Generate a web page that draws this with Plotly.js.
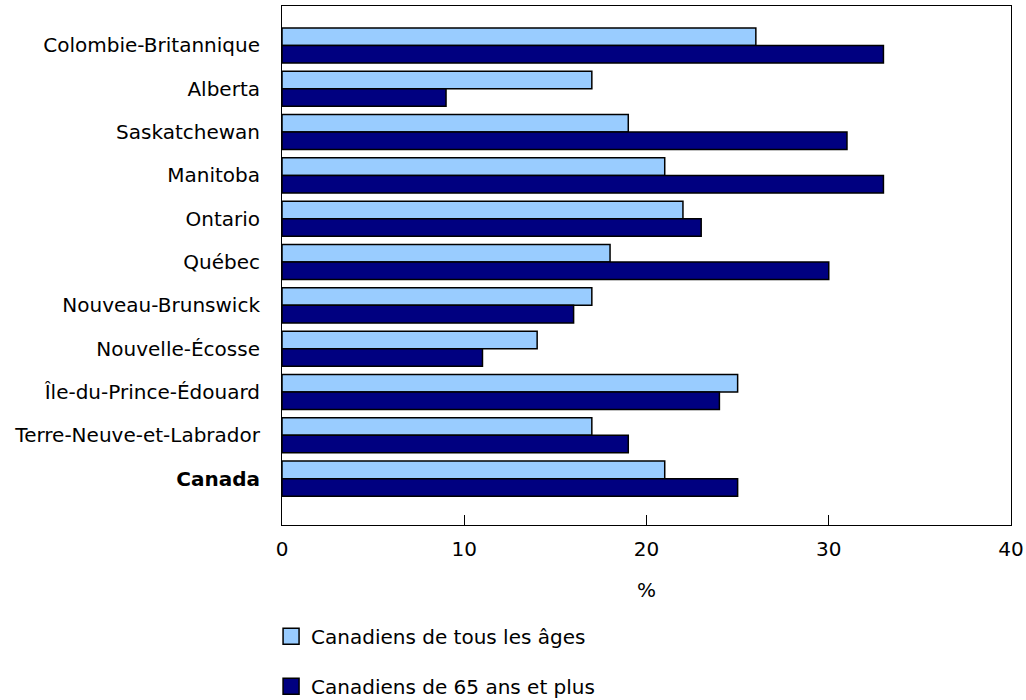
<!DOCTYPE html>
<html>
<head>
<meta charset="utf-8">
<script src="https://cdn.plot.ly/plotly-3.0.1.min.js"></script>
<style>html,body{margin:0;padding:0;background:#fff;}#chart{width:1026px;height:700px;}</style>
</head>
<body>
<div id="chart"></div>
<script>
const categories = ["Colombie-Britannique","Alberta","Saskatchewan","Manitoba","Ontario","Québec","Nouveau-Brunswick","Nouvelle-Écosse","Île-du-Prince-Édouard","Terre-Neuve-et-Labrador","<b>Canada</b>"];
const allAges = [26,17,19,21,22,18,17,14,25,17,21];
const seniors = [33,9,31,33,23,30,16,11,24,19,25];
const seriesNames = ["Canadiens de tous les âges","Canadiens de 65 ans et plus"];
const seriesColors = ["#99CCFF","#000080"];
const xTicks = [0,10,20,30,40];

const font = {family:"DejaVu Sans, Verdana, sans-serif", size:20, color:"#000"};
const bars = [allAges, seniors].map((vals, i) => ({
  type:"bar", orientation:"h", y:categories, x:vals, name:seriesNames[i], legendgroup:"g"+i,
  showlegend:false,
  marker:{color:seriesColors[i], line:{color:"#000", width:1.5}}
}));
// legend proxies (larger square symbols)
const proxies = seriesNames.map((n, i) => ({
  type:"scatter", mode:"markers", x:[null], y:[null], name:n, legendgroup:"g"+i,
  marker:{symbol:"square", size:16, color:seriesColors[i], line:{color:"#000", width:1.5}}
}));
const layout = {
  width:1026, height:700,
  margin:{l:282, r:15, t:6, b:175, autoexpand:false},
  paper_bgcolor:"#fff", plot_bgcolor:"#fff",
  font:font,
  barmode:"group", bargap:0.19, bargroupgap:0,
  xaxis:{range:[0,40], tickvals:xTicks, ticktext:xTicks.map(String), ticks:"inside", ticklen:10, tickcolor:"#000",
    showgrid:false, zeroline:false, showline:true, linecolor:"#000", linewidth:1, mirror:true,
    ticklabelstandoff:6, title:{text:"%", font:font, standoff:22}},
  yaxis:{type:"category", range:[11.07,-0.91], ticks:"", showgrid:false, zeroline:false,
    showline:true, linecolor:"#000", linewidth:1, mirror:true, ticklabelstandoff:17},
  showlegend:true,
  legend:{orientation:"v", x:-0.015, xanchor:"left", y:-0.177, yanchor:"top", tracegroupgap:21,
    font:font, bgcolor:"rgba(0,0,0,0)"}
};
Plotly.newPlot("chart", bars.concat(proxies), layout, {displayModeBar:false, staticPlot:true});
</script>
</body>
</html>
